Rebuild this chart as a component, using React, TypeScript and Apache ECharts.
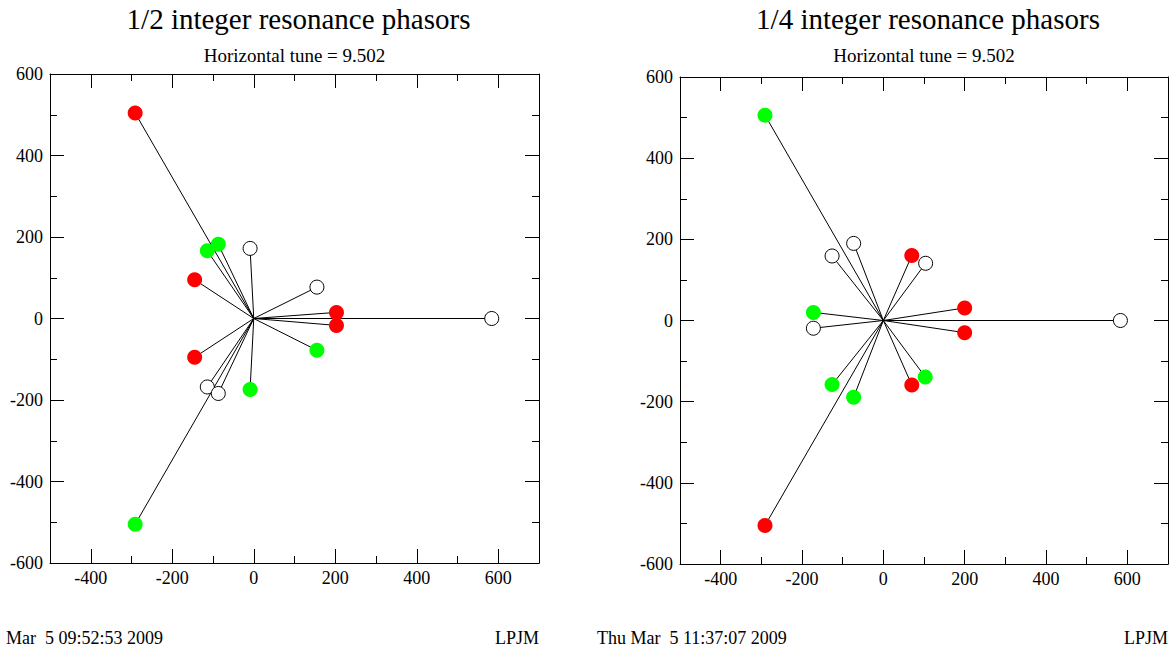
import React, { useEffect, useRef } from "react";
import * as echarts from "echarts";

// ---- data ----
const halfRed: number[][] = [[-291, 504], [-145, 95], [-145, -95], [203, 15], [203, -17]];
const halfGreen: number[][] = [[-87, 182], [-114, 166], [155, -78], [-9, -174], [-291, -505]];
const halfWhite: number[][] = [[-9, 172], [155, 77], [584, 0], [-114, -168], [-87, -184]];

const quarterRed: number[][] = [[70, 160], [200, 31], [200, -30], [70, -159], [-291, -505]];
const quarterGreen: number[][] = [[-291, 506], [-172, 20], [-126, -158], [-73, -189], [103, -139]];
const quarterWhite: number[][] = [[-73, 190], [-126, 159], [104, 141], [-172, -19], [583, 0]];

const xTickLabels = [-400, -200, 0, 200, 400, 600];
const titles = ["1/2 integer resonance phasors", "1/4 integer resonance phasors"];
const subtitle = "Horizontal tune = 9.502";
const dates = ["Mar  5 09:52:53 2009", "Thu Mar  5 11:37:07 2009"];
const lab = "LPJM";

const FONT = "'Liberation Serif', 'Times New Roman', serif";

const grids = [
  { left: 50, top: 74, width: 489, height: 489 },
  { left: 680, top: 77, width: 488, height: 487 },
];

function xAxisFor(gridIndex: number, position: "bottom" | "top", labels: boolean) {
  return {
    gridIndex,
    type: "value",
    position,
    min: -500,
    max: 700,
    interval: 200,
    axisLine: { show: true, onZero: false, lineStyle: { color: "#000", width: 1 } },
    axisTick: { show: true, inside: true, length: 7, lineStyle: { color: "#000", width: 1 } },
    minorTick: { show: true, splitNumber: 2, length: 14, lineStyle: { color: "#000", width: 1 } },
    axisLabel: {
      show: labels,
      customValues: xTickLabels,
      color: "#000",
      fontFamily: FONT,
      fontSize: 18,
      margin: 6,
    },
    splitLine: { show: false },
    minorSplitLine: { show: false },
  };
}

function yAxisFor(gridIndex: number, position: "left" | "right", labels: boolean) {
  return {
    gridIndex,
    type: "value",
    position,
    min: -600,
    max: 600,
    interval: 200,
    axisLine: { show: true, onZero: false, lineStyle: { color: "#000", width: 1 } },
    axisTick: { show: true, inside: true, length: 14, lineStyle: { color: "#000", width: 1 } },
    minorTick: { show: true, splitNumber: 2, length: 7, lineStyle: { color: "#000", width: 1 } },
    axisLabel: { show: labels, color: "#000", fontFamily: FONT, fontSize: 18, margin: 7 },
    splitLine: { show: false },
    minorSplitLine: { show: false },
  };
}

function seriesFor(idx: number, red: number[][], green: number[][], white: number[][]) {
  const all = [...red, ...green, ...white];
  const ax = { xAxisIndex: idx * 2, yAxisIndex: idx * 2 };
  return [
    {
      type: "lines",
      coordinateSystem: "cartesian2d",
      ...ax,
      z: 1,
      silent: true,
      lineStyle: { color: "#000", width: 1, opacity: 1 },
      data: all.map((p) => ({ coords: [[0, 0], p] })),
    },
    {
      type: "scatter",
      ...ax,
      z: 3,
      symbol: "circle",
      symbolSize: 15,
      itemStyle: { color: "#ff0000", opacity: 1 },
      data: red,
    },
    {
      type: "scatter",
      ...ax,
      z: 3,
      symbol: "circle",
      symbolSize: 15,
      itemStyle: { color: "#00ff00", opacity: 1 },
      data: green,
    },
    {
      type: "scatter",
      ...ax,
      z: 3,
      symbol: "circle",
      symbolSize: 14,
      itemStyle: { color: "#ffffff", borderColor: "#000", borderWidth: 1, opacity: 1 },
      data: white,
    },
  ];
}

export default function App() {
  const ref = useRef<HTMLDivElement>(null);
  useEffect(() => {
    if (!ref.current) return;
    const chart = echarts.init(ref.current, null, { renderer: "svg" });
    const graphics: any[] = [];
    grids.forEach((g, i) => {
      const cx = g.left + g.width / 2;
      graphics.push({
        type: "text",
        x: cx + 4,
        y: 19,
        style: { text: titles[i], fontFamily: FONT, fontSize: 29, fill: "#000", textAlign: "center", textVerticalAlign: "middle" },
      });
      graphics.push({
        type: "text",
        x: cx,
        y: 55,
        style: { text: subtitle, fontFamily: FONT, fontSize: 19, fill: "#000", textAlign: "center", textVerticalAlign: "middle" },
      });
      graphics.push({
        type: "text",
        x: i === 0 ? 6 : 597,
        y: 638,
        style: { text: dates[i], fontFamily: FONT, fontSize: 18, fill: "#000", textAlign: "left", textVerticalAlign: "middle" },
      });
      graphics.push({
        type: "text",
        x: g.left + g.width,
        y: 638,
        style: { text: lab, fontFamily: FONT, fontSize: 18, fill: "#000", textAlign: "right", textVerticalAlign: "middle" },
      });
    });
    chart.setOption({
      animation: false,
      backgroundColor: "#fff",
      grid: grids.map((g) => ({ ...g, containLabel: false })),
      xAxis: [
        xAxisFor(0, "bottom", true),
        xAxisFor(0, "top", false),
        xAxisFor(1, "bottom", true),
        xAxisFor(1, "top", false),
      ],
      yAxis: [
        yAxisFor(0, "left", true),
        yAxisFor(0, "right", false),
        yAxisFor(1, "left", true),
        yAxisFor(1, "right", false),
      ],
      series: [
        ...seriesFor(0, halfRed, halfGreen, halfWhite),
        ...seriesFor(1, quarterRed, quarterGreen, quarterWhite),
      ],
      graphic: graphics,
    });
    return () => chart.dispose();
  }, []);
  return (
    <div
      ref={ref}
      style={{ position: "fixed", left: 0, top: 0, width: 1171, height: 653, background: "#fff" }}
    />
  );
}
